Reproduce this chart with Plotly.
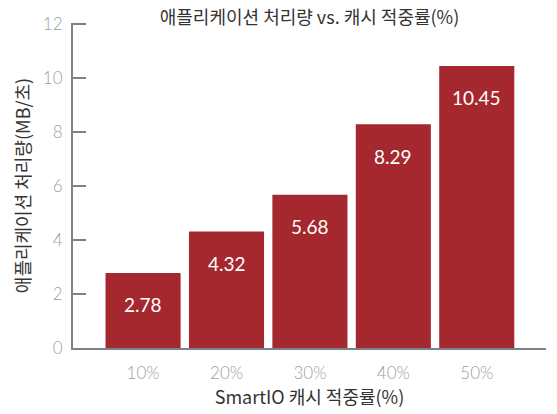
import plotly.graph_objects as go

categories = ["10%", "20%", "30%", "40%", "50%"]
throughput = [2.78, 4.32, 5.68, 8.29, 10.45]
y_ticks = [0, 2, 4, 6, 8, 10, 12]

title_text = "애플리케이션 처리량 vs. 캐시 적중률(%)"
x_title = "SmartIO 캐시 적중률(%)"
y_title = "애플리케이션 처리량(MB/초)"

BAR = "#A4282D"
AXIS = "#7A828A"
TICKC = "#9A9FA4"
TEXTC = "#333333"
KFONT = "Noto Sans CJK KR, Noto Sans, sans-serif"
NFONT = "Lato, Noto Sans, sans-serif"

W, H = 557, 414

fig = go.Figure()
fig.add_trace(go.Bar(x=categories, y=throughput, marker_color=BAR,
                     marker_line_width=0, hoverinfo="skip"))

for c, v in zip(categories, throughput):
    fig.add_annotation(x=c, y=v, text=f"{v:.2f}", showarrow=False,
                       yanchor="middle", yshift=-32,
                       font=dict(color="white", size=19, family=NFONT))

fig.add_shape(type="line", xref="paper", x0=1, x1=1, yref="y",
              ysizemode="pixel", yanchor=0, y0=0, y1=-9,
              line=dict(color=AXIS, width=2))

fig.update_layout(
    width=W, height=H,
    margin=dict(l=73, r=11, t=23, b=66, autoexpand=False),
    paper_bgcolor="white", plot_bgcolor="white",
    bargap=0.1,
    showlegend=False,
    hovermode=False,
    font=dict(family=KFONT, color=TEXTC),
    title=dict(text=title_text, xref="paper", x=0.5, xanchor="center",
               yref="container", y=1 - 18 / H, yanchor="middle",
               font=dict(size=18, color=TEXTC, family=KFONT)),
    xaxis=dict(range=[-0.84, 4.83], showline=True, linecolor=AXIS, linewidth=2,
               ticks="", showgrid=False, zeroline=False, automargin=False,
               ticklabelstandoff=9,
               tickfont=dict(size=17, color=TICKC, family=NFONT, weight=300),
               title=dict(text=x_title, standoff=5,
                          font=dict(size=18, color=TEXTC, family=KFONT))),
    yaxis=dict(range=[0, 12.04], tickvals=y_ticks, showline=True, linecolor=AXIS,
               linewidth=2, ticks="inside", ticklen=13, tickwidth=2, tickcolor=AXIS,
               showgrid=False, zeroline=False, automargin=False,
               ticklabelstandoff=5,
               tickfont=dict(size=17, color=TICKC, family=NFONT, weight=300),
               title=dict(text=y_title, standoff=8,
                          font=dict(size=18, color=TEXTC, family=KFONT))),
)

fig.write_html("out.html", config={"displayModeBar": False},
               post_script="document.body.style.margin='0';")
